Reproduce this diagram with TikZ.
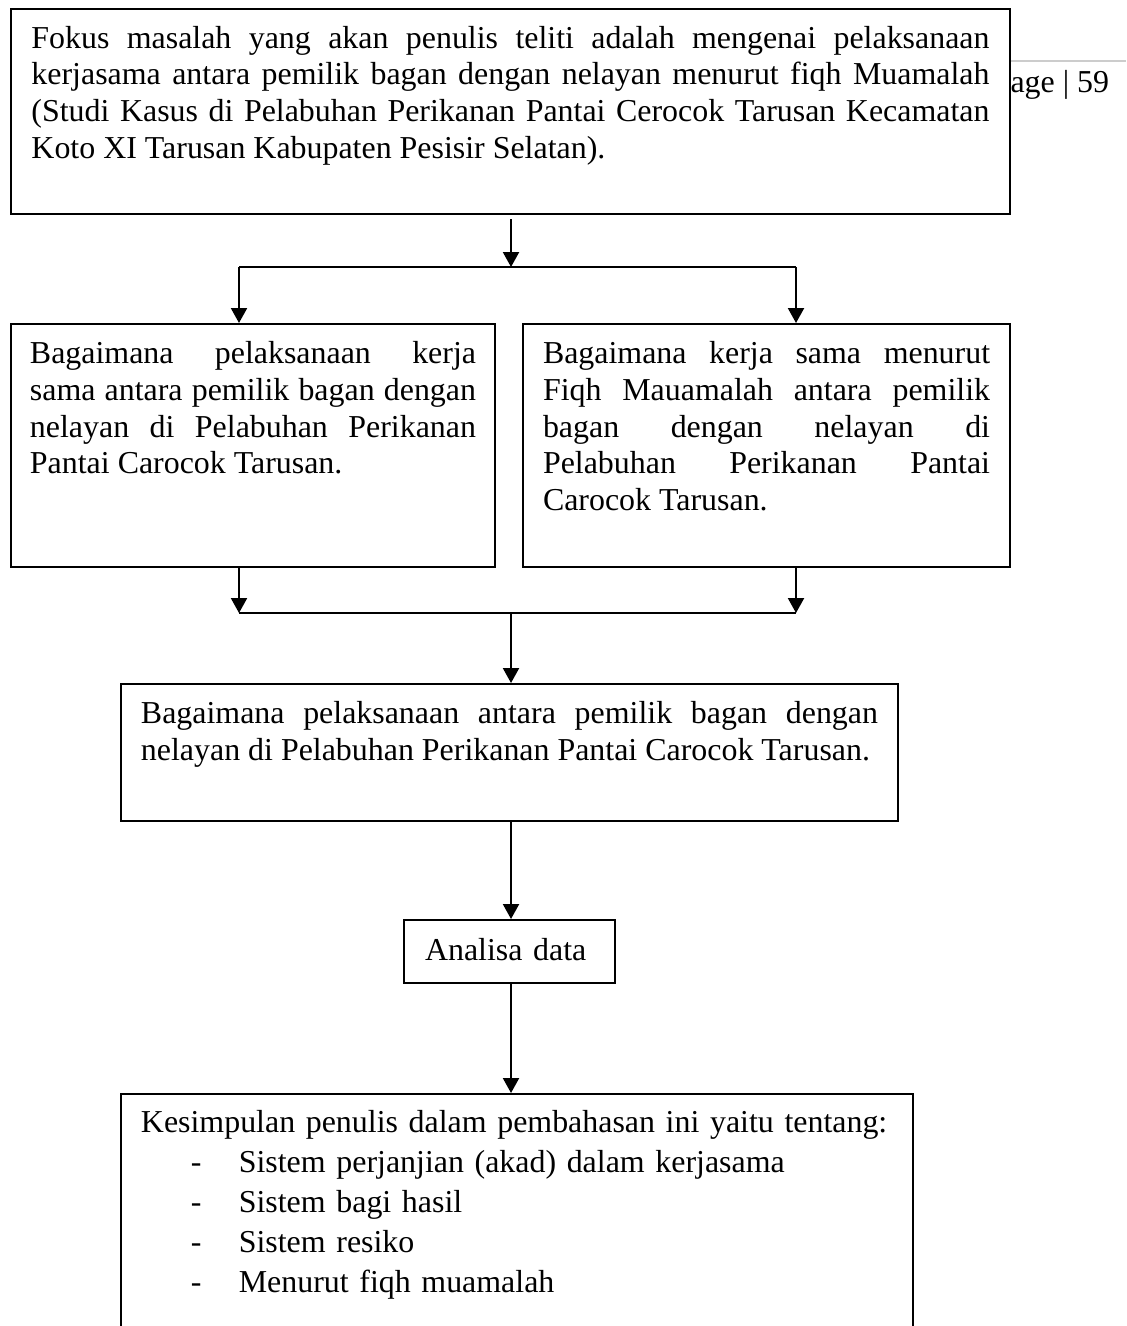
\documentclass[tikz,border=0pt]{standalone}
\usepackage{fontspec}
\setmainfont{Liberation Serif}
\usepackage{tikz}
\usetikzlibrary{arrows.meta}
\tolerance=10000
\hbadness=10000
\newcommand{\butir}{\makebox[36.8pt][l]{\hspace*{18.8pt}-}}

\begin{document}
\begin{tikzpicture}[x=0.376pt, y=-0.376pt,
							>={Triangle[length=5.6pt,width=6pt]},
							every node/.style={inner sep=0pt,font=\fontsize{12}{13.8}\selectfont},
							kotak/.style={draw,line width=0.75pt,anchor=north west,inner xsep=7.52pt,inner ysep=0pt,align=justify},
							panah/.style={->,line width=0.75pt},
							garis/.style={line width=0.75pt},]
	\useasboundingbox (0,0) rectangle (1126,1326);
	\clip (0,0) rectangle (1126,1326);
	\node[kotak, text width=360.2pt, inner xsep=7.7pt, text height=14.7pt, text depth=62.4pt] (fokus) at (10,8)
	{Fokus masalah yang akan penulis teliti adalah mengenai pelaksanaan\linebreak
	kerjasama antara pemilik bagan dengan nelayan menurut fiqh Muamalah\linebreak
	(Studi Kasus di Pelabuhan Perikanan Pantai Cerocok Tarusan Kecamatan\linebreak
	Koto XI Tarusan Kabupaten Pesisir Selatan).};
	\node[kotak, text width=167.7pt, inner xsep=7.14pt, text height=15pt, text depth=76.3pt] (tanya1) at (10,323)
	{Bagaimana pelaksanaan kerja\linebreak
	sama antara pemilik bagan dengan\linebreak
	nelayan di Pelabuhan Perikanan\linebreak
	Pantai Carocok Tarusan.};
	\node[kotak, text width=168.1pt, text height=15pt, text depth=76.3pt] (tanya2) at (522,323)
	{Bagaimana kerja sama menurut\linebreak
	Fiqh Mauamalah antara pemilik\linebreak
	bagan dengan nelayan di\linebreak
	Pelabuhan Perikanan Pantai\linebreak
	Carocok Tarusan.};
	\node[kotak, text width=277.1pt, text height=15pt, text depth=36.5pt] (tanya3) at (120,683)
	{Bagaimana pelaksanaan antara pemilik bagan dengan\linebreak
	nelayan di Pelabuhan Perikanan Pantai Carocok Tarusan.};
	\node[kotak, align=left, text width=63.5pt, inner xsep=7.9pt, text height=15.4pt, text depth=8.3pt] (analisa) at (403,919)
	{Analisa data};
	\node[kotak, align=left, font=\fontsize{12}{15.04}\selectfont, text width=282.8pt, text height=14.3pt, text depth=112.8pt] (simpul) at (120,1093)
	{Kesimpulan penulis dalam pembahasan ini yaitu tentang:\\
	\butir Sistem perjanjian (akad) dalam kerjasama\\
	\butir Sistem bagi hasil\\
	\butir Sistem resiko\\
	\butir Menurut fiqh muamalah};
	\node[anchor=base west] (halaman) at (1010,93) {age | 59};
	\coordinate (pisah) at (511,267);
	\coordinate (pisahL) at (239,267);
	\coordinate (pisahR) at (796,267);
	\coordinate (gabung) at (511,613);
	\coordinate (gabungL) at (239,613);
	\coordinate (gabungR) at (796,613);
	\coordinate (kepala) at (1126,61);
	\draw[panah, shorten <=1.5pt] (fokus.south -| pisah) -- (pisah);
	\draw[garis] (pisahL) -- (pisahR);
	\draw[panah] (pisahL) -- (pisahL |- tanya1.north);
	\draw[panah] (pisahR) -- (pisahR |- tanya2.north);
	\draw[panah] (pisahL |- tanya1.south) -- (gabungL);
	\draw[panah] (pisahR |- tanya2.south) -- (gabungR);
	\draw[garis] (gabungL) -- (gabungR);
	\draw[panah] (gabung) -- (gabung |- tanya3.north);
	\draw[panah] (tanya3.south -| gabung) -- (analisa.north -| gabung);
	\draw[panah] (analisa.south -| gabung) -- (simpul.north -| gabung);
	\draw[black!20, line width=0.6pt] (fokus.east |- kepala) -- (kepala);
\end{tikzpicture}
\end{document}
